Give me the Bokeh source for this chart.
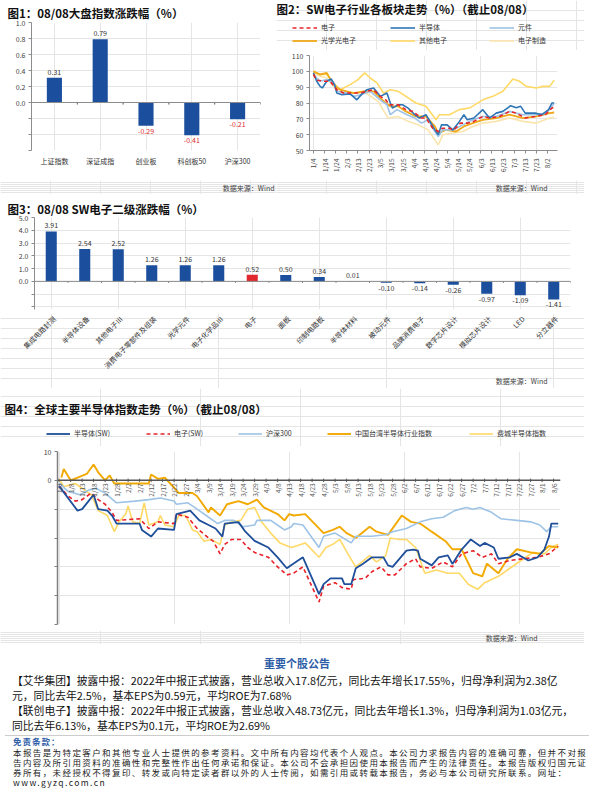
import math, datetime
from bokeh.plotting import figure
from bokeh.models import (Range1d, LinearAxis, FixedTicker, NumeralTickFormatter,
                          Legend, LegendItem, Div, Span, LabelSet, Label, ColumnDataSource)
from bokeh.layouts import column, row
from bokeh.core.properties import value
from bokeh.embed import file_html
from bokeh.resources import INLINE

FONT = "Noto Sans CJK SC"
BAR = "#1B4F9E"
RED = "#E0282E"

# ---------------- data ----------------
idx_names = ["上证指数", "深证成指", "创业板", "科创板50", "沪深300"]
idx_chg = [0.31, 0.79, -0.29, -0.41, -0.21]
fig1_yticks = [1.0, 0.8, 0.6, 0.4, 0.2, 0.0, -0.2, -0.4, -0.6]

sub_names = ["集成电路封测", "半导体设备", "其他电子Ⅲ", "消费电子零部件及组装", "光学元件",
             "电子化学品Ⅲ", "电子", "面板", "印制电路板", "半导体材料", "被动元件",
             "品牌消费电子", "数字芯片设计", "模拟芯片设计", "LED", "分立器件"]
sub_chg = [3.91, 2.54, 2.52, 1.26, 1.26, 1.26, 0.52, 0.50, 0.34, 0.01, -0.10,
           -0.14, -0.26, -0.97, -1.09, -1.41]
fig3_yticks = [5, 4, 3, 2, 1, 0, -1, -2]

fig2_ticklabels = ["1/4", "1/14", "1/24", "2/3", "2/13", "2/23", "3/5", "3/15", "3/25", "4/4",
                   "4/14", "4/24", "5/4", "5/14", "5/24", "6/3", "6/13", "6/23", "7/3", "7/13",
                   "7/23", "8/2"]
fig2_yticks = [110, 100, 90, 80, 70, 60, 50]

elec2_dates = ["1/4","1/7","1/14","1/19","1/25","1/31","2/9","2/15","2/21","2/27","3/5","3/10","3/13","3/21","3/28","4/3","4/11","4/15","4/21","4/26","4/30","5/6","5/10","5/16","5/22","5/28","6/5","6/11","6/20","6/29","7/5","7/13","7/22","7/31","8/6","8/8"]
elec2_vals = [98,94.4,93.7,93.7,88.4,86.3,86.3,86.3,87.4,88.4,84.2,82,78.9,78.9,75.8,74.7,70.5,70.5,64.1,62,64.1,64.1,63,67.3,67.3,68.4,71.5,70.5,71.5,74.7,73.6,70.5,71.5,72.6,76.8,77.4]

semi2_dates = ["1/4","1/7","1/10","1/12","1/16","1/20","1/23","1/25","1/29","2/6","2/12","2/16","2/21","2/27","3/5","3/11","3/14","3/16","3/21","3/25","3/30","4/5","4/9","4/15","4/23","4/26","4/29","5/4","5/9","5/14","5/19","5/22","5/28","6/5","6/11","6/17","6/23","6/30","7/5","7/9","7/13","7/22","7/28","8/3","8/6","8/8"]
semi2_vals = [99,93.7,90.5,89.5,93.7,95.2,91.6,86.3,85.3,85.7,82,85.3,88.4,89.5,84.2,86.3,80,76.8,78.9,78.9,76.8,72.6,70.5,72.6,63,59.9,66.2,66.2,63,67.3,72.6,69.4,70.5,75.8,70.5,73.6,74.7,78.3,77,77.9,73.6,73.6,72.6,75.8,80,80]

comp2_dates = ["1/4","1/10","1/16","1/22","1/25","2/3","2/10","2/16","2/24","3/5","3/11","3/14","3/20","3/29","4/5","4/11","4/17","4/23","4/26","4/30","5/9","5/18","5/27","6/5","6/17","6/29","7/11","7/23","8/1","8/7","8/8"]
comp2_vals = [98,93.7,94.8,92.7,87.4,86.3,84.2,85.3,87.4,82,78.9,72.6,75.8,72.6,70.5,67.3,69.4,62,58.8,63,63,66.2,69.4,71.5,71.5,74.7,72.6,72.6,73.6,78.9,78.9]

opto2_dates = ["1/4","1/10","1/16","1/22","1/28","2/9","2/18","2/27","3/5","3/10","3/14","3/21","3/28","4/6","4/15","4/23","4/26","5/3","5/12","5/19","5/27","6/5","6/17","6/29","7/11","7/23","8/4","8/8"]
opto2_vals = [100,98,99,91.6,88.4,86.3,87.4,87.4,83.1,80,77.9,77.9,74.7,71.5,71.5,65.2,61,63,62,65.2,67.3,69.4,70.5,72.6,70.5,71.5,73.6,74]

other2_dates = ["1/4","1/10","1/16","1/22","1/28","2/6","2/13","2/19","2/24","3/2","3/8","3/14","3/21","3/28","4/6","4/15","4/24","4/27","5/6","5/15","5/24","6/5","6/14","6/23","7/2","7/8","7/14","7/23","7/29","8/4","8/8"]
other2_vals = [100,98,98,92.7,88.4,91.6,94.8,99,95.8,92.7,86.3,88.4,87.4,84.2,80,77.9,69.4,72.6,72.6,75.8,76.8,82,84.2,87.4,95.2,93.7,90.5,89.5,90.5,90.5,94.4]

mfg2_dates = ["1/4","1/10","1/16","1/22","1/31","2/11","2/20","3/3","3/12","3/21","3/30","4/8","4/17","4/26","4/30","5/9","5/18","5/27","6/5","6/17","6/29","7/11","7/23","8/4","8/8"]
mfg2_vals = [99,96.9,95.8,90.5,87.4,86.3,86.3,81,70.5,71.5,68.4,66.2,63,53.5,59.9,61,62,65.2,67.3,68.4,70.5,68.4,67.3,70.5,71]

fig4_ticklabels = ["1/3","1/8","1/13","1/18","1/23","1/28","2/2","2/7","2/12","2/17","2/22","2/27",
                   "3/4","3/9","3/14","3/19","3/24","3/29","4/3","4/8","4/13","4/18","4/23","4/28",
                   "5/3","5/8","5/13","5/18","5/23","5/28","6/2","6/7","6/12","6/17","6/22","6/27",
                   "7/2","7/7","7/12","7/17","7/22","7/27","8/1","8/6"]
fig4_yticks = [10, 0, -10, -20, -30, -40, -50]

semi4_dates = ["1/3","1/11","1/13","1/17","1/18","1/20","1/24","1/26","1/28","2/7","2/8","2/12","2/15","2/22","2/23","3/1","3/5","3/9","3/12","3/15","3/16","3/22","3/25","3/29","4/4","4/8","4/12","4/14","4/19","4/26","4/28","5/1","5/6","5/7","5/10","5/12","5/15","5/19","5/24","5/26","5/28","6/3","6/6","6/8","6/9","6/14","6/17","6/21","6/23","6/27","7/1","7/5","7/7","7/11","7/13","7/18","7/21","7/26","7/30","8/2","8/4","8/5","8/8"]
semi4_vals = [-2,-10.5,-10,-6,-5,-10,-10.5,-12.2,-15,-15,-17.2,-19.5,-16.7,-17.2,-11.7,-10.5,-13.9,-15.5,-16.7,-19.5,-15,-14.5,-17.8,-21,-23.3,-26.7,-30.5,-29.4,-26.7,-39.5,-36,-34,-34,-36,-36,-30.5,-29,-26.7,-26.7,-29.5,-30,-24.4,-24,-24.4,-27.2,-29.5,-26.7,-26,-29,-24,-20.5,-22.8,-21.7,-23.3,-27.2,-26.7,-25.5,-27.8,-26.7,-24,-19.5,-15,-15]

elec4_dates = ["1/3","1/7","1/10","1/13","1/17","1/20","1/23","1/26","1/28","2/7","2/11","2/15","2/22","2/23","2/28","3/4","3/9","3/11","3/14","3/16","3/19","3/23","3/26","3/29","4/4","4/8","4/12","4/15","4/19","4/26","4/28","5/3","5/6","5/10","5/11","5/16","5/19","5/23","5/26","5/29","6/3","6/7","6/9","6/14","6/19","6/23","6/27","7/2","7/6","7/10","7/13","7/18","7/24","7/30","8/4","8/8"]
elec4_vals = [-2,-5.5,-7.2,-6.7,-4.4,-6.7,-8.3,-11.1,-13.9,-13.3,-16.7,-14.4,-15,-11.7,-12.8,-16.7,-20,-21.1,-25.5,-22.2,-20.5,-20.5,-23.3,-25,-26.7,-30,-32.8,-32.2,-30,-42.2,-36.7,-35.5,-37.2,-37.8,-34.4,-34,-31.7,-30,-32.8,-32.8,-28.9,-27.2,-30,-30.5,-28.3,-30,-25.5,-24.4,-26.7,-25.5,-28.9,-27.8,-27.2,-26.7,-25.5,-22.8]

hs300_dates = ["1/3","1/7","1/12","1/16","1/19","1/23","1/28","2/5","2/11","2/16","2/22","2/23","2/28","3/4","3/9","3/13","3/16","3/20","3/24","3/29","3/30","4/5","4/9","4/11","4/14","4/15","4/19","4/26","4/28","5/3","5/10","5/12","5/19","5/25","5/28","6/3","6/9","6/14","6/19","6/24","6/29","7/2","7/5","7/10","7/14","7/21","7/27","7/31","8/3","8/5","8/8"]
hs300_vals = [-1,-3.9,-5,-3.3,-2.8,-4.4,-7.8,-7.2,-6.7,-6.1,-7.2,-8.3,-7.8,-10,-12.8,-15,-13.9,-13.9,-16.1,-15.5,-13.9,-13.9,-16.1,-17.2,-16.1,-15,-15.5,-23.3,-19.4,-18.3,-21.7,-19.4,-19.4,-18.9,-17.8,-16.7,-14.4,-13.3,-12.8,-10.5,-9.4,-10,-9.4,-11.1,-13.3,-13.9,-14.4,-15.5,-17.8,-16.1,-16.1]

tw4_dates = ["1/4","1/5","1/8","1/11","1/15","1/18","1/20","1/23","1/25","1/27","2/11","2/12","2/15","2/18","2/21","2/24","3/2","3/4","3/9","3/10","3/14","3/17","3/22","3/26","3/30","4/2","4/8","4/11","4/13","4/15","4/20","4/28","5/2","5/5","5/8","5/12","5/18","5/21","5/26","6/1","6/5","6/9","6/14","6/20","6/23","6/27","7/2","7/6","7/8","7/13","7/17","7/21","7/27","7/31","8/4","8/8"]
tw4_vals = [1,3.9,0,0.9,2.2,5.5,2.8,0,1.7,-1.1,-1.1,2,0.5,0.9,-1.7,-4.4,-4.4,-5.5,-11.1,-9.4,-12.2,-8.3,-7.2,-8.3,-6.7,-9.4,-11.7,-13.9,-11.7,-12.2,-11.7,-18.3,-17.2,-16.1,-18.3,-20,-16.1,-17.8,-18.9,-12.2,-14.4,-15,-17.8,-21.1,-23.9,-23.9,-32.2,-33.3,-28.9,-32.2,-27.2,-23.9,-25,-25.5,-22.8,-23.3]

sox4_dates = ["1/3","1/5","1/10","1/14","1/17","1/20","1/24","1/27","1/29","2/1","2/2","2/4","2/7","2/9","2/11","2/15","2/16","2/18","2/22","2/24","2/27","3/2","3/4","3/7","3/10","3/14","3/16","3/19","3/23","3/26","3/29","4/1","4/5","4/9","4/14","4/20","4/26","4/29","5/2","5/5","5/9","5/12","5/18","5/21","5/25","5/27","5/31","6/3","6/7","6/11","6/16","6/21","6/26","6/30","7/4","7/7","7/13","7/18","7/24","7/28","8/2","8/5","8/8"]
sox4_vals = [0.5,-2.2,-1.1,-3.3,-5,-10.5,-12.2,-17.8,-14.4,-11.7,-8.9,-14.4,-15,-7.8,-15.5,-14.4,-12.2,-15.5,-16.1,-12.2,-12.2,-17.2,-17.8,-21.1,-20.5,-22.2,-15.5,-14.4,-13.9,-10,-9.4,-14.4,-18.3,-21.7,-23.3,-21.7,-26.7,-23.3,-22.2,-20.5,-26.1,-30,-26.1,-28.3,-26.1,-20,-20.5,-20.5,-23.3,-32.2,-31.1,-32.2,-32.2,-36.1,-37.8,-35.5,-33.3,-30.5,-27.2,-25,-25.5,-23.3,-22.2]

title1 = "图1：08/08大盘指数涨跌幅（%）"
title2 = "图2：SW电子行业各板块走势（%）（截止08/08）"
title3 = "图3：08/08 SW电子二级涨跌幅（%）"
title4 = "图4：全球主要半导体指数走势（%）（截止08/08）"
source_text = "数据来源：Wind"
notice_head = "重要个股公告"
notice_1 = "【艾华集团】披露中报：2022年中报正式披露，营业总收入17.8亿元，同比去年增长17.55%，归母净利润为2.38亿元，同比去年2.5%，基本EPS为0.59元，平均ROE为7.68%"
notice_2 = "【联创电子】披露中报：2022年中报正式披露，营业总收入48.73亿元，同比去年增长1.3%，归母净利润为1.03亿元，同比去年6.13%，基本EPS为0.1元，平均ROE为2.69%"
disc_head = "免责条款："
disc_text = ("本报告是为特定客户和其他专业人士提供的参考资料。文中所有内容均代表个人观点。本公司力求报告内容的准确可靠，但并不对"
             "报告内容及所引用资料的准确性和完整性作出任何承诺和保证。本公司不会承担因使用本报告而产生的法律责任。本报告版权归国"
             "元证券所有，未经授权不得复印、转发或向特定读者群以外的人士传阅，如需引用或转载本报告，务必与本公司研究所联系。网"
             "址：www.gyzq.com.cn")


def day_of(md, start):
    m, d = md.split("/")
    return (datetime.date(2022, int(m), int(d)) - start).days


def mkfig(w, h, xr, yr, mb, title=None, toff=0, tstand=4):
    p = figure(width=w, height=h, x_range=Range1d(*xr), y_range=Range1d(*yr),
               output_backend="svg", toolbar_location=None,
               x_axis_location=None, y_axis_location=None,
               min_border_left=mb[0], min_border_right=mb[1],
               min_border_top=mb[2], min_border_bottom=mb[3])
    p.outline_line_color = None
    if title:
        p.title.text = title
        p.title.text_font = FONT
        p.title.text_font_size = "11.5px"
        p.title.text_font_style = "bold"
        p.title.text_color = "#111111"
        p.title.offset = toff
        p.title.standoff = tstand
    return p


def strip(w, h, xr=None):
    """A blank strip (no axes) whose frame fills the whole canvas; y is in pixels, upwards."""
    p = figure(width=w, height=h, x_range=Range1d(*(xr or (0, w))), y_range=Range1d(0, h),
               output_backend="svg", toolbar_location=None,
               x_axis_location=None, y_axis_location=None,
               min_border_left=0, min_border_right=0, min_border_top=0, min_border_bottom=0)
    p.outline_line_color = None
    return p


def header(w, h, title, tx, ty):
    p = strip(w, h)
    p.add_layout(Label(x=tx, y=ty, text=title, text_font=FONT, text_font_size="11.5px",
                       text_font_style="bold", text_color="#111111", text_baseline="middle"))
    return p


def source(p, x, y, dx=0):
    p.add_layout(Label(x=x, y=y, x_offset=dx, text=source_text, text_font=FONT,
                       text_font_size="7px", text_color="#444444", text_align="right",
                       text_baseline="middle"))


def yaxes(p, ticks, fmt, xstart, line_color="#8c8c8c", lw=1):
    ax = LinearAxis(ticker=FixedTicker(ticks=ticks, minor_ticks=[]),
                    formatter=NumeralTickFormatter(format=fmt),
                    major_label_overrides={t: " " for t in ticks if t < 0})
    ax.axis_line_color = line_color
    ax.axis_line_width = lw
    ax.major_tick_line_color = line_color
    ax.major_tick_in = 0
    ax.major_tick_out = 3
    ax.minor_tick_line_color = None
    ax.major_label_text_font = FONT
    ax.major_label_text_font_size = "7px"
    ax.major_label_text_color = "#404040"
    ax.major_label_standoff = 3
    p.add_layout(ax, "left")
    neg = [t for t in ticks if t < 0]
    labels = [("(%.1f)" % -t) if "." in fmt else ("(%d)" % -t) for t in neg]
    src = ColumnDataSource(dict(x=[xstart] * len(neg), y=neg, t=labels))
    p.add_layout(LabelSet(x="x", y="y", text="t", source=src, x_offset=-7, text_align="right",
                          text_baseline="middle", text_font=value(FONT), text_font_size="7px",
                          text_color=RED))


def bars(p, names, vals, colors, neg_label_color, label_fmt, tick_len):
    n = len(names)
    xs = list(range(n))
    p.vbar(x=xs, top=vals, width=0.33, bottom=0, fill_color=colors, line_color=None)
    pos = ColumnDataSource(dict(x=[x for x, v in zip(xs, vals) if v >= 0],
                                y=[v for v in vals if v >= 0],
                                t=[label_fmt % v for v in vals if v >= 0]))
    neg = ColumnDataSource(dict(x=[x for x, v in zip(xs, vals) if v < 0],
                                y=[v for v in vals if v < 0],
                                t=[label_fmt % v for v in vals if v < 0]))
    p.add_layout(LabelSet(x="x", y="y", text="t", source=pos, y_offset=3, text_align="center",
                          text_baseline="bottom", text_font=value(FONT), text_font_size="7px",
                          text_color="#333333"))
    p.add_layout(LabelSet(x="x", y="y", text="t", source=neg, y_offset=-2, text_align="center",
                          text_baseline="top", text_font=value(FONT), text_font_size="7px",
                          text_color=neg_label_color))
    p.add_layout(Span(location=0, dimension="width", line_color="#8c8c8c", line_width=1))
    p.segment(x0=[i + 0.5 for i in xs], x1=[i + 0.5 for i in xs], y0=[0] * n,
              y1=[-tick_len] * n, line_color="#555555", line_width=1)


def legend_key(p, item, x, y, gw):
    lg = Legend(items=[item], orientation="horizontal", location=(x, y), label_text_font=FONT,
                label_text_font_size="7px", label_text_color="#333333", glyph_height=11,
                glyph_width=gw, label_height=11, label_standoff=4, padding=0, margin=0,
                border_line_color=None, background_fill_alpha=0)
    p.add_layout(lg, "center")


# ---------------- Fig 1 ----------------
f1 = mkfig(276, 180, (-0.5, len(idx_names) - 0.5), (-0.6, 1.0), (31, 16, 17, 30), title1, -24, 4)
yaxes(f1, fig1_yticks, "(0.0)", -0.5)
bars(f1, idx_names, idx_chg, [BAR] * len(idx_names), RED, "%.2f", 0.025)
xa1 = LinearAxis(ticker=FixedTicker(ticks=list(range(len(idx_names))), minor_ticks=[]),
                 major_label_overrides={i: nm for i, nm in enumerate(idx_names)})
xa1.axis_line_color = None
xa1.major_tick_line_color = None
xa1.major_tick_in = 0
xa1.major_tick_out = 0
xa1.minor_tick_line_color = None
xa1.major_label_standoff = 5
xa1.major_label_text_font = FONT
xa1.major_label_text_font_size = "7px"
xa1.major_label_text_color = "#333333"
f1.add_layout(xa1, "below")
ft1 = strip(276, 14)
source(ft1, 274, 7)

# ---------------- Fig 2 ----------------
s2 = datetime.date(2022, 1, 4)
series2 = [
    ("电子", elec2_dates, elec2_vals, "#E8262A", 1.6, "4 3"),
    ("半导体", semi2_dates, semi2_vals, "#2E75B6", 1.6, "solid"),
    ("元件", comp2_dates, comp2_vals, "#9DC3E6", 1.6, "solid"),
    ("光学光电子", opto2_dates, opto2_vals, "#F0A818", 1.8, "solid"),
    ("其他电子", other2_dates, other2_vals, "#FFD966", 1.6, "solid"),
    ("电子制造", mfg2_dates, mfg2_vals, "#FBE5AE", 1.6, "solid"),
]
h2 = header(308, 50, title2, 0, 42)
f2 = mkfig(308, 130, (-3.5, 219), (50, 110), (33, 27, 5, 30))
yaxes(f2, fig2_yticks, "0", -3.5)
xa2 = LinearAxis(ticker=FixedTicker(ticks=[day_of(t, s2) for t in fig2_ticklabels], minor_ticks=[]),
                 major_label_overrides={day_of(t, s2): t for t in fig2_ticklabels})
xa2.axis_line_color = "#8c8c8c"
xa2.major_tick_line_color = "#8c8c8c"
xa2.major_tick_in = 0
xa2.major_tick_out = 3
xa2.minor_tick_line_color = None
xa2.minor_tick_in = 0
xa2.minor_tick_out = 0
xa2.major_label_orientation = math.pi / 2
xa2.major_label_text_font = FONT
xa2.major_label_text_font_size = "6.5px"
xa2.major_label_text_color = "#444444"
f2.add_layout(xa2, "below")
for k in [5, 4, 3, 2, 1, 0]:
    nm, ds, vs, col, lw, dash = series2[k]
    f2.line([day_of(d, s2) for d in ds], vs, line_color=col, line_width=lw, line_dash=dash)
key_x2 = [16, 114, 213]
for k, (nm, ds, vs, col, lw, dash) in enumerate(series2):
    r = h2.line(x=[-50, -40], y=[-50, -50], line_color=col, line_width=lw, line_dash=dash)
    legend_key(h2, LegendItem(label=nm, renderers=[r]), key_x2[k % 3], 17.5 if k < 3 else 4.5, 25)
ft2 = strip(308, 14)
source(ft2, 271, 7)

# ---------------- Fig 3 ----------------
f3 = mkfig(584, 119, (-0.5, len(sub_names) - 0.5), (-2.2, 5.0), (34, 14, 23, 4), title3, -27, 1)
yaxes(f3, fig3_yticks, "(0.0)", -0.5)
cols3 = [RED if nm == "电子" else BAR for nm in sub_names]
bars(f3, sub_names, sub_chg, cols3, "#333333", "%.2f", 0.1)
unit3 = 536 / len(sub_names)
ft3 = strip(584, 75, (-0.5 - 34 / unit3, len(sub_names) - 0.5 + 14 / unit3))
cat3 = ColumnDataSource(dict(x=list(range(len(sub_names))), y=[71] * len(sub_names), t=sub_names))
ft3.add_layout(LabelSet(x="x", y="y", text="t", source=cat3, angle=math.pi / 4, x_offset=3,
                        text_align="right", text_baseline="middle",
                        text_font=value(FONT), text_font_size="7px", text_color="#333333"))
source(ft3, len(sub_names) - 0.5, 8, -23)

# ---------------- Fig 4 ----------------
s4 = datetime.date(2022, 1, 3)
series4 = [
    ("半导体(SW)", semi4_dates, semi4_vals, "#1F4E9A", 1.8, "solid"),
    ("电子(SW)", elec4_dates, elec4_vals, "#E8202A", 1.6, "4 3"),
    ("沪深300", hs300_dates, hs300_vals, "#9DC3E6", 1.6, "solid"),
    ("中国台湾半导体行业指数", tw4_dates, tw4_vals, "#F2A900", 1.9, "solid"),
    ("费城半导体指数", sox4_dates, sox4_vals, "#FFD966", 1.6, "solid"),
]
h4 = header(584, 58, title4, 4, 38)
f4 = mkfig(584, 184, (-0.7, 218), (-50, 10), (57, 24, 5, 6))
yaxes(f4, fig4_yticks, "(0)", -0.7, line_color="#7f7f7f", lw=1.5)
f4.add_layout(Span(location=0, dimension="width", line_color="#555555", line_width=1.5))
tick4 = [day_of(t, s4) for t in fig4_ticklabels]
f4.segment(x0=tick4, x1=tick4, y0=[0.6] * len(tick4), y1=[-0.6] * len(tick4),
           line_color="#555555", line_width=1)
lab4 = ColumnDataSource(dict(x=tick4, y=[0] * len(tick4), t=fig4_ticklabels))
f4.add_layout(LabelSet(x="x", y="y", text="t", source=lab4, angle=math.pi / 2, y_offset=-3,
                       text_align="right", text_baseline="middle", text_font=value(FONT),
                       text_font_size="6.5px", text_color="#555555"))
for k in [4, 3, 2, 1, 0]:
    nm, ds, vs, col, lw, dash = series4[k]
    f4.line([day_of(d, s4) for d in ds], vs, line_color=col, line_width=lw, line_dash=dash)
key_x4 = [46, 146, 238, 327, 469]
for k, (nm, ds, vs, col, lw, dash) in enumerate(series4):
    r = h4.line(x=[-50, -40], y=[-50, -50], line_color=col, line_width=lw, line_dash=dash)
    legend_key(h4, LegendItem(label=nm, renderers=[r]), key_x4[k], 7.5, 24)
ft4 = strip(584, 14)
source(ft4, 537, 7)

# ---------------- text block ----------------
html = f"""
<div style="width:584px;height:140px;overflow:hidden;font-family:'Noto Sans CJK SC';color:#111;">
  <div style="text-align:center;color:#2E5DA8;font-weight:bold;font-size:11px;line-height:14px;margin-top:7px;">{notice_head}</div>
  <div style="font-size:10.8px;line-height:15px;padding:3px 10px 0 7px;">
    <div>{notice_1}</div>
    <div>{notice_2}</div>
  </div>
  <div style="border-top:1px solid #cccccc;margin-top:2px;padding:0 0 0 8px;">
    <div style="color:#2E5DA8;font-weight:bold;font-size:8.5px;line-height:11px;letter-spacing:1px;">{disc_head}</div>
    <div style="font-size:8.5px;line-height:10px;letter-spacing:1.4px;color:#222;">{disc_text}</div>
  </div>
</div>
"""
div = Div(text=html, width=584, height=140)

layout = column(
    row(column(row(f1), row(ft1)), column(row(h2), row(f2), row(ft2))),
    row(f3), row(ft3),
    row(h4), row(f4), row(ft4),
    div)
open("out.html", "w").write(file_html(layout, INLINE))
